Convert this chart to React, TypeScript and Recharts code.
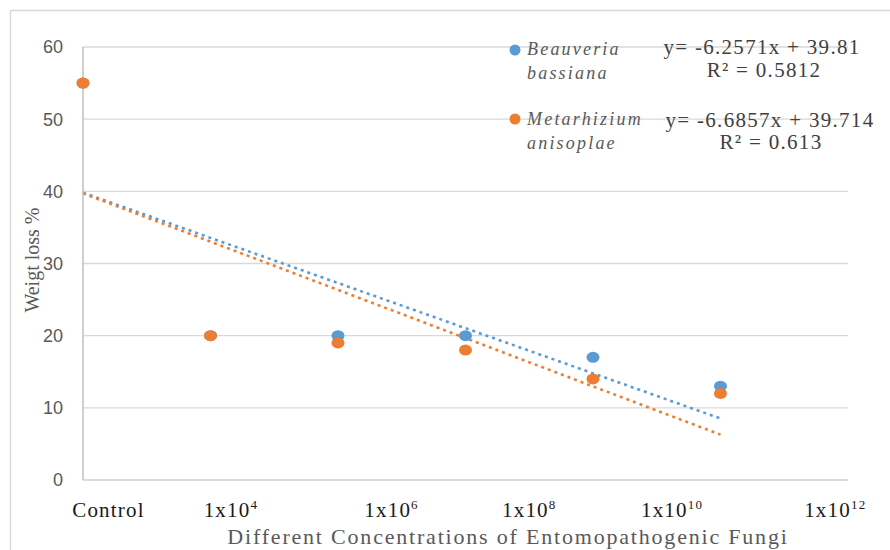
import React from 'react';
import { ScatterChart, Scatter, XAxis, YAxis, CartesianGrid, ReferenceLine, Customized } from 'recharts';

// x = position of each treatment (0 = control)
const doseIndex = [0, 1, 2, 3, 4, 5];
const beauveria = [55, 20, 20, 20, 17, 13];
const metarhizium = [55, 20, 19, 18, 14, 12];

// x-axis text labels (the labels sit between the points, like text boxes)
const tickBase = ['Control', '1x10', '1x10', '1x10', '1x10', '1x10'];
const tickPower = ['', '4', '6', '8', '10', '12'];
const tickAt = [0.2, 1.16, 2.42, 3.5, 4.62, 5.9];
const yTicks = [0, 10, 20, 30, 40, 50, 60];

// linear trendlines: [slope, intercept], R²
const beauveriaFit = [-6.2571, 39.81];
const metarhiziumFit = [-6.6857, 39.714];
const beauveriaR2 = '0.5812';
const metarhiziumR2 = '0.613';

const BLUE = '#5B9BD5';
const ORANGE = '#ED7D31';
const GRAY = '#595959';
const SERIF = '"Liberation Serif", "Times New Roman", serif';

const blueData = doseIndex.map((x, i) => ({ x, y: beauveria[i] }));
const orangeData = doseIndex.map((x, i) => ({ x, y: metarhizium[i] }));
const lastX = doseIndex[doseIndex.length - 1];

const Dot = (color: string) => (props: any) => (
  <ellipse cx={props.cx} cy={props.cy} rx={6.5} ry={5.5} fill={color} />
);

const XTick = (props: any) => {
  const { x, y, index } = props;
  return (
    <text x={x} y={y} dy="0.71em" textAnchor="middle" fontFamily={SERIF} fontSize={21} fill="#1a1a1a" letterSpacing={1.2}>
      {tickBase[index]}
      {tickPower[index] ? (
        <tspan dy={-8} fontSize={13}>{tickPower[index]}</tspan>
      ) : null}
    </text>
  );
};

const fmt = (n: number) => (n < 0 ? '-' + Math.abs(n) : String(n));

const eqStyle = { fontFamily: SERIF, fontSize: 21, fill: '#404040', letterSpacing: 1.3 };
const legStyle = { fontFamily: SERIF, fontStyle: 'italic', fontSize: 18, fill: GRAY, letterSpacing: 2.2 };

const Overlay = () => (
  <g>
    {/* chart area frame */}
    <line x1={10.5} y1={10.5} x2={890} y2={10.5} stroke="#D9D9D9" strokeWidth={1.5} />
    <line x1={10.5} y1={10.5} x2={10.5} y2={550} stroke="#D9D9D9" strokeWidth={1.5} />

    <text transform="translate(39,260) rotate(-90)" textAnchor="middle" fontFamily={SERIF} fontSize={20} fill={GRAY}>
      Weigt loss %
    </text>
    <text x={508} y={544} textAnchor="middle" fontFamily={SERIF} fontSize={22} fill={GRAY} letterSpacing={1.8}>
      Different  Concentrations of Entomopathogenic Fungi
    </text>

    {/* legend */}
    <circle cx={515} cy={50} r={5.5} fill={BLUE} />
    <text x={527} y={55} {...legStyle}>Beauveria</text>
    <text x={527} y={79} {...legStyle}>bassiana</text>
    <circle cx={515} cy={119} r={5.5} fill={ORANGE} />
    <text x={527} y={125} {...legStyle}>Metarhizium</text>
    <text x={527} y={149} {...legStyle}>anisoplae</text>

    {/* trendline equations */}
    <text x={762} y={54} textAnchor="middle" {...eqStyle}>
      {`y= ${fmt(beauveriaFit[0])}x + ${beauveriaFit[1]}`}
    </text>
    <text x={764} y={77} textAnchor="middle" {...eqStyle}>
      {`R² = ${beauveriaR2}`}
    </text>
    <text x={770} y={127} textAnchor="middle" {...eqStyle}>
      {`y= ${fmt(metarhiziumFit[0])}x + ${metarhiziumFit[1]}`}
    </text>
    <text x={771} y={149} textAnchor="middle" {...eqStyle}>
      {`R² = ${metarhiziumR2}`}
    </text>
  </g>
);

const App = () => {
  return (
    <div style={{ position: 'absolute', left: 0, top: 0, width: 890, height: 550, overflow: 'hidden', background: '#fff' }}>
      <ScatterChart width={890} height={550} margin={{ top: 47, right: 42, bottom: 40, left: 23 }}>
        <CartesianGrid vertical={false} stroke="#D9D9D9" strokeWidth={1.3} />
        <XAxis
          type="number"
          dataKey="x"
          domain={[0, 6]}
          ticks={tickAt}
          interval={0}
          height={30}
          tickLine={false}
          tickSize={0}
          tickMargin={22}
          axisLine={{ stroke: '#D9D9D9', strokeWidth: 1.5 }}
          tick={<XTick />}
        />
        <YAxis
          type="number"
          dataKey="y"
          domain={[0, 60]}
          ticks={yTicks}
          width={60}
          tickLine={false}
          tickSize={0}
          tickMargin={20}
          axisLine={{ stroke: '#BFBFBF', strokeWidth: 1.5 }}
          tick={{ fill: GRAY, fontSize: 18, fontFamily: '"Liberation Sans", Arial, sans-serif' }}
        />
        <Scatter data={blueData} fill={BLUE} shape={Dot(BLUE)} isAnimationActive={false} />
        <Scatter data={orangeData} fill={ORANGE} shape={Dot(ORANGE)} isAnimationActive={false} />
        <ReferenceLine
          segment={[{ x: 0, y: beauveriaFit[1] }, { x: lastX, y: beauveriaFit[1] + beauveriaFit[0] * lastX }]}
          stroke={BLUE}
          strokeWidth={2.6}
          strokeDasharray="3 4"
          ifOverflow="visible"
        />
        <ReferenceLine
          segment={[{ x: 0, y: metarhiziumFit[1] }, { x: lastX, y: metarhiziumFit[1] + metarhiziumFit[0] * lastX }]}
          stroke={ORANGE}
          strokeWidth={2.6}
          strokeDasharray="3 4"
          ifOverflow="visible"
        />
        <Customized component={Overlay} />
      </ScatterChart>
    </div>
  );
};

export default App;
